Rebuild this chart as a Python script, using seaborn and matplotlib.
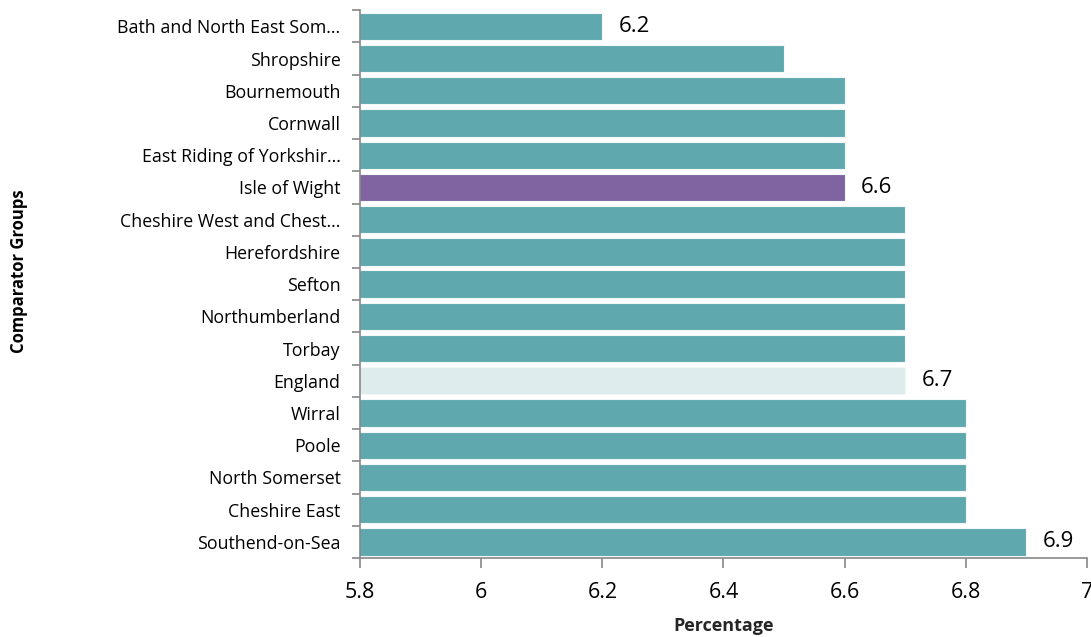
import numpy as np
import pandas as pd
import matplotlib
matplotlib.use("Agg")
import matplotlib.pyplot as plt
import seaborn as sns
from matplotlib.ticker import FixedLocator

areas = ["Bath and North East Som...", "Shropshire", "Bournemouth", "Cornwall",
         "East Riding of Yorkshir...", "Isle of Wight", "Cheshire West and Chest...",
         "Herefordshire", "Sefton", "Northumberland", "Torbay", "England",
         "Wirral", "Poole", "North Somerset", "Cheshire East", "Southend-on-Sea"]
values = [6.2, 6.5, 6.6, 6.6, 6.6, 6.6, 6.7, 6.7, 6.7, 6.7, 6.7, 6.7,
          6.8, 6.8, 6.8, 6.8, 6.9]
labelled = ["Bath and North East Som...", "Isle of Wight", "England", "Southend-on-Sea"]
xticks = [5.8, 6.0, 6.2, 6.4, 6.6, 6.8, 7.0]
xticklabels = ["5.8", "6", "6.2", "6.4", "6.6", "6.8", "7"]

teal = "#5FA8AE"
palette = {a: teal for a in areas}
palette["Isle of Wight"] = "#8064A2"
palette["England"] = "#DEECED"

df = pd.DataFrame({"area": areas, "value": values})

sns.set_style("white")
plt.rcParams["font.family"] = ["Open Sans", "DejaVu Sans"]
plt.rcParams["text.color"] = "black"
plt.rcParams["xtick.color"] = "#888888"
plt.rcParams["ytick.color"] = "#888888"
plt.rcParams["xtick.labelcolor"] = "black"
plt.rcParams["ytick.labelcolor"] = "black"

fig = plt.figure(figsize=(10.91, 6.37), dpi=100)
ax = fig.add_axes([0.33, 0.124, 0.6663, 0.86])

sns.barplot(data=df, x="value", y="area", hue="area", palette=palette,
            legend=False, width=0.85, edgecolor="#F2F7F7", linewidth=0.8,
            saturation=1, ax=ax)

ax.set_xlim(5.8, 7.0)
ax.set_ylim(len(areas) - 0.5, -0.5)
ax.set_xticks(xticks)
ax.set_xticklabels(xticklabels, fontsize=15.5)
ax.tick_params(axis="x", bottom=True, length=7, width=1.2, pad=10)
ax.tick_params(axis="y", which="major", left=True, length=0, labelsize=12.8, pad=14)
ax.yaxis.set_minor_locator(FixedLocator(np.arange(-0.5, len(areas), 1)))
ax.tick_params(axis="y", which="minor", left=True, length=6, width=1.2)

for s in ["top", "right"]:
    ax.spines[s].set_visible(False)
for s in ["left", "bottom"]:
    ax.spines[s].set_color("#888888")
    ax.spines[s].set_linewidth(1.2)

for i, (a, v) in enumerate(zip(areas, values)):
    if a in labelled:
        ax.text(v + 0.027, i, f"{v:.1f}", va="center", ha="left", fontsize=16)

ax.set_xlabel("Percentage", fontsize=13, fontweight="bold", labelpad=10.5)
ax.set_ylabel("")
fig.text(0.017, 0.575, "Comparator Groups", rotation=90, fontsize=12,
         fontweight="bold", va="center", ha="center")

fig.savefig("out.png", dpi=100)
